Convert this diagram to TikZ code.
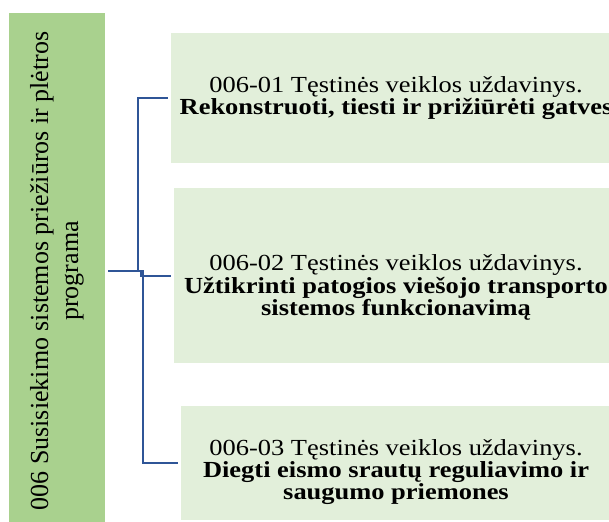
\documentclass[tikz,border=0pt]{standalone}
\usepackage{fontspec}
\setmainfont{Liberation Serif}
\newfontfamily\widefont{Liberation Serif}[FakeStretch=1.15]
\definecolor{progfill}{HTML}{A9D18E}
\definecolor{taskfill}{HTML}{E2EFDA}
\definecolor{linkblue}{HTML}{2F5597}

\begin{document}
\begin{tikzpicture}[x=1pt, y=-1pt,
  progbox/.style={fill=progfill, rotate=90, align=center, inner sep=0pt,
    minimum width=516pt, minimum height=96pt,
    font=\fontsize{26}{30}\selectfont},
  taskbox/.style={fill=taskfill, align=center, inner sep=0pt,
    font=\widefont\fontsize{23}{20}\selectfont},
  link/.style={draw=linkblue, line width=2pt, shorten <=3pt, shorten >=3pt}]
  \clip (0,0) rectangle (609,521);
  % program
  \node[progbox] (prog) at (57,271)
    {006 Susisiekimo sistemos priežiūros ir plėtros\\programa};
  % tasks
  \node[taskbox, minimum width=450pt, minimum height=130pt] (t1) at (396,98)
    {006-01 Tęstinės veiklos uždavinys.\\
     \textbf{Rekonstruoti, tiesti ir prižiūrėti gatves}};
  \node[taskbox, minimum width=444pt, minimum height=175pt] (t2) at (396,275.5)
    {\rule{0pt}{40pt}006-02 Tęstinės veiklos uždavinys.\\
     \textbf{Užtikrinti patogios viešojo transporto}\\
     \textbf{sistemos funkcionavimą}};
  \node[taskbox, minimum width=430pt, minimum height=114pt] (t3) at (396,463)
    {\rule{0pt}{34pt}006-03 Tęstinės veiklos uždavinys.\\
     \textbf{Diegti eismo srautų reguliavimo ir}\\
     \textbf{saugumo priemones}};
  % links
  \draw[link] (prog.south) -- ++(33,0) |- (t1.west);
  \draw[link] (prog.south) -- ++(36,0) |- (t2.west);
  \draw[link] (prog.south) -- ++(38,0) |- (t3.west);
\end{tikzpicture}
\end{document}
